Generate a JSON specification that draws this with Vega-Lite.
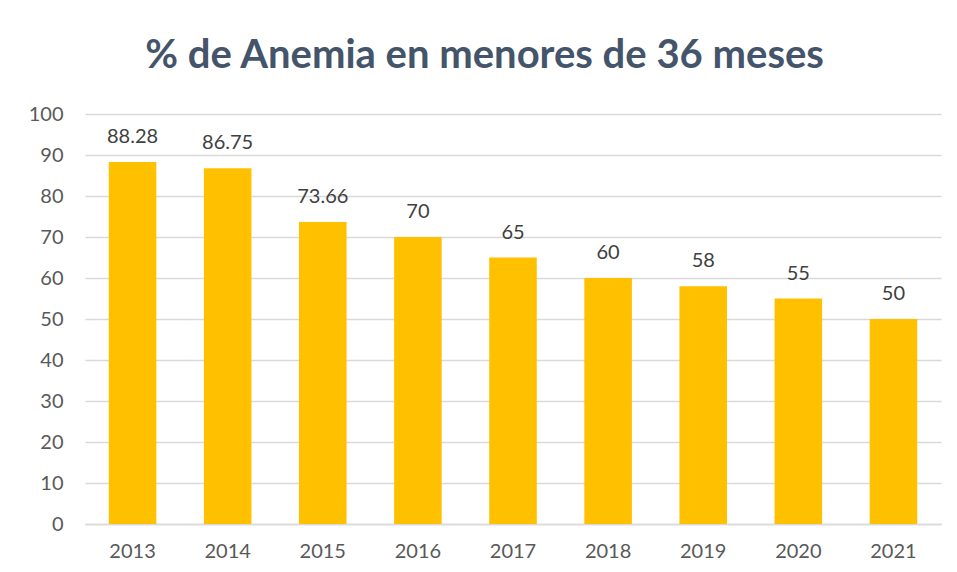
{
  "$schema": "https://vega.github.io/schema/vega-lite/v6.json",
  "width": 856,
  "height": 410,
  "autosize": {"type": "none"},
  "padding": {"left": 85, "top": 114, "right": 16, "bottom": 48},
  "background": "white",
  "title": {
    "text": "% de Anemia en menores de 36 meses",
    "font": "Lato",
    "fontSize": 40,
    "fontWeight": "bold",
    "color": "#44546A",
    "anchor": "middle",
    "frame": "bounds",
    "offset": 28
  },
  "data": {
    "values": [
      {"year": "2013", "value": 88.28},
      {"year": "2014", "value": 86.75},
      {"year": "2015", "value": 73.66},
      {"year": "2016", "value": 70},
      {"year": "2017", "value": 65},
      {"year": "2018", "value": 60},
      {"year": "2019", "value": 58},
      {"year": "2020", "value": 55},
      {"year": "2021", "value": 50}
    ]
  },
  "encoding": {
    "x": {
      "field": "year",
      "type": "ordinal",
      "scale": {"paddingInner": 0.5, "paddingOuter": 0.25},
      "axis": {
        "title": null,
        "labelAngle": 0,
        "labelFont": "Lato",
        "labelFontSize": 20,
        "labelColor": "#595959",
        "labelPadding": 17,
        "ticks": false,
        "domainColor": "#D9D9D9",
        "domainWidth": 1.5
      }
    },
    "y": {
      "field": "value",
      "type": "quantitative",
      "scale": {"domain": [0, 100], "nice": false},
      "axis": {
        "title": null,
        "values": [0, 10, 20, 30, 40, 50, 60, 70, 80, 90, 100],
        "labelFont": "Lato",
        "labelFontSize": 20,
        "labelColor": "#595959",
        "labelPadding": 22,
        "ticks": false,
        "domain": false,
        "gridColor": "#D9D9D9",
        "gridWidth": 1.5
      }
    }
  },
  "layer": [
    {"mark": {"type": "bar", "color": "#FFC000"}},
    {
      "mark": {"type": "text", "baseline": "bottom", "dy": -15, "font": "Lato", "fontSize": 20, "color": "#404040"},
      "encoding": {"text": {"field": "value", "type": "quantitative"}}
    }
  ],
  "config": {"view": {"stroke": null}}
}
